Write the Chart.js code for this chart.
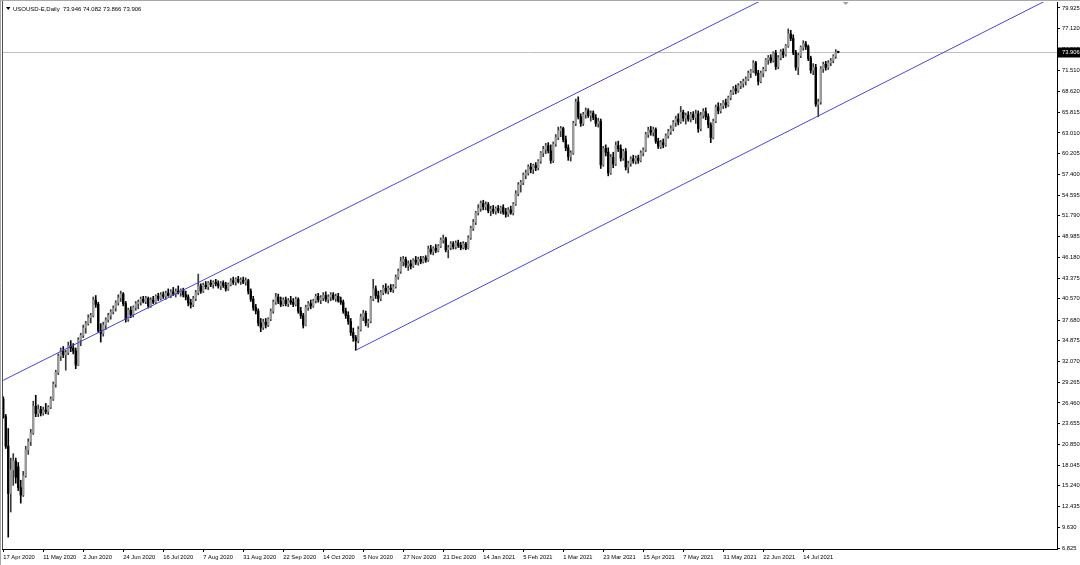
<!DOCTYPE html>
<html><head><meta charset="utf-8">
<script src="https://cdn.jsdelivr.net/npm/chart.js@4.4.0/dist/chart.umd.min.js"></script>
<style>html,body{margin:0;padding:0;background:#fff;overflow:hidden}</style>
</head><body><canvas id="c" width="1080" height="565"></canvas>
<script>
const symbolTitle = 'USOUSD-E,Daily';
const holidays = ['2020-12-25','2021-01-01','2021-04-02'];
const totalSlots = 422;

const opens = [
27.0,24.6,20.6,14.2,17.4,18.6,17.8,15.0,14.0,16.6,
20.1,21.2,22.4,26.0,25.0,25.6,25.1,25.5,25.3,25.9,
27.0,29.0,30.6,32.8,33.5,33.0,33.3,34.2,33.9,33.5,
31.6,35.0,35.6,36.6,37.2,38.0,38.3,40.4,39.8,36.3,
35.9,37.0,37.7,38.3,38.8,39.3,40.0,40.7,41.2,39.9,
37.8,39.0,38.4,39.4,39.9,40.1,40.5,40.2,40.6,39.6,
40.4,40.1,40.9,40.6,41.1,40.9,41.3,41.0,41.5,41.2,
41.6,41.4,41.7,41.1,40.8,40.0,39.8,40.6,41.4,42.3,
41.6,42.4,42.2,42.7,42.5,42.8,42.6,42.3,42.7,42.4,
41.9,42.5,43.0,42.8,43.2,42.9,43.1,42.8,43.0,41.6,
40.5,39.4,38.9,37.3,36.7,37.4,37.0,37.8,38.9,40.1,
40.8,40.2,39.8,40.4,39.9,40.3,40.1,39.8,40.5,38.9,
38.3,37.0,39.4,39.9,39.6,40.3,40.9,40.4,40.7,41.0,
40.5,40.8,41.1,40.6,40.9,40.3,40.1,38.9,38.3,37.5,
36.0,35.3,34.9,36.4,38.1,38.6,37.3,37.5,40.6,41.9,
41.0,40.6,41.4,42.0,41.6,42.0,41.8,42.2,43.5,44.3,
45.6,45.9,45.1,45.3,45.0,45.8,45.5,45.9,45.6,46.1,
45.8,47.3,46.9,47.4,47.1,47.7,48.5,48.7,47.2,47.5,
48.0,47.6,48.1,47.8,47.5,48.0,47.4,48.8,50.1,50.9,
52.2,52.8,53.5,53.0,53.3,52.5,52.7,52.4,52.8,52.5,
52.9,52.3,52.0,52.6,52.2,53.4,54.8,56.0,56.3,57.3,
57.6,58.4,58.1,58.6,58.3,59.2,60.3,60.8,61.3,60.6,
59.3,61.5,62.4,63.3,63.6,62.1,61.0,59.8,60.3,64.3,
67.2,65.2,64.3,65.5,66.0,65.4,65.7,65.1,64.3,64.6,
58.7,60.9,60.4,57.6,59.7,58.8,61.3,60.9,59.6,60.5,
58.4,58.9,59.5,59.2,59.6,59.3,60.3,60.7,62.8,63.4,
63.1,63.5,61.9,61.2,61.7,61.4,62.6,63.2,63.6,64.4,
64.9,64.5,65.8,65.0,65.4,64.9,65.5,65.1,65.6,63.6,
65.4,65.9,65.2,64.1,62.4,64.6,66.5,66.0,66.7,67.1,
66.8,67.8,68.5,69.0,68.7,69.4,69.7,70.0,70.3,71.1,
71.4,72.5,71.1,70.0,71.1,71.6,72.9,73.2,72.8,73.8,
72.0,73.2,74.0,73.6,74.8,76.4,75.8,73.9,71.9,73.5,
74.6,75.1,74.7,73.1,71.5,71.9,66.9,67.2,71.7,72.3,
71.9,72.5,72.8,73.4,73.946];

const highs = [
27.3,24.9,23.0,19.0,19.6,19.0,18.4,16.0,17.2,20.6,
21.6,22.9,26.7,27.5,26.2,26.0,25.9,26.4,26.1,27.3,
29.3,30.9,33.1,33.9,34.1,33.6,34.7,34.9,34.5,33.9,
35.3,35.9,37.0,37.5,38.4,38.6,40.8,41.0,40.1,37.2,
37.4,38.0,38.6,39.1,39.6,40.3,41.1,41.6,41.4,40.2,
39.3,39.5,39.6,40.2,40.4,40.8,40.9,40.9,40.8,40.7,
40.9,41.1,41.3,41.4,41.5,41.6,41.9,41.8,42.1,41.9,
42.3,41.9,42.0,41.6,41.1,40.5,40.9,41.7,43.9,42.6,
42.7,42.9,42.9,43.1,43.0,43.2,43.0,42.9,43.0,42.8,
42.7,43.3,43.5,43.4,43.6,43.4,43.5,43.4,43.2,41.9,
40.9,39.8,39.2,37.9,37.8,37.9,38.0,39.2,40.4,41.3,
41.2,40.8,40.7,40.8,40.6,40.9,40.6,40.8,40.7,39.4,
38.6,39.7,40.2,40.4,40.5,41.2,41.3,41.0,41.4,41.5,
41.1,41.4,41.4,41.2,41.3,40.8,40.4,39.3,38.8,37.9,
36.6,35.6,36.8,38.5,39.0,38.9,37.8,40.9,43.2,42.3,
41.6,41.7,42.4,42.6,42.3,42.5,42.5,43.8,44.6,46.2,
46.3,46.2,45.7,45.8,46.0,46.3,46.2,46.3,46.3,46.4,
47.7,47.8,47.6,47.9,47.9,48.8,49.2,48.9,47.8,48.3,
48.3,48.4,48.5,48.2,48.3,48.2,49.1,50.4,51.3,52.4,
53.3,53.8,53.9,53.7,53.6,53.1,53.2,53.0,53.2,53.1,
53.3,52.8,52.9,53.1,53.6,55.2,56.3,56.6,57.6,58.0,
58.7,58.9,58.8,59.0,59.4,60.5,61.2,61.6,61.7,61.4,
61.8,62.8,63.8,63.9,63.8,62.6,61.4,60.6,64.6,67.6,
67.9,65.6,65.8,66.4,66.3,66.0,66.0,65.5,65.0,64.9,
61.2,61.4,61.0,60.1,60.4,61.8,61.9,61.4,60.8,60.9,
59.2,59.8,60.0,59.9,60.0,60.6,61.0,63.1,63.8,63.9,
63.8,63.7,62.3,62.0,62.2,62.9,63.5,64.0,64.7,65.3,
65.6,66.6,66.1,65.7,65.9,65.8,65.9,66.1,66.0,65.8,
66.3,66.4,65.6,64.4,64.9,66.8,67.1,67.0,67.4,67.6,
68.0,68.8,69.3,69.5,69.7,70.0,70.3,70.6,71.4,71.6,
72.8,72.7,71.5,71.4,71.9,73.1,73.5,73.6,74.0,74.2,
73.5,74.3,74.4,75.0,77.1,76.9,76.3,74.2,73.8,74.8,
75.5,75.4,74.9,73.4,72.4,72.3,67.6,72.0,72.6,72.7,
72.8,73.1,73.6,74.3,74.082];

const lows = [
24.4,20.3,8.3,11.7,15.3,15.6,14.6,12.9,13.8,16.4,
19.5,20.7,22.2,24.6,24.6,24.7,24.8,25.0,24.9,25.7,
26.8,28.6,30.3,32.2,32.6,30.9,33.0,33.4,33.1,31.1,
31.5,34.2,35.3,35.9,37.0,37.3,38.1,39.4,36.0,34.7,
35.5,36.4,37.4,37.8,38.5,38.9,39.7,40.2,39.6,37.4,
37.5,38.0,38.1,39.0,39.2,39.7,40.0,39.9,39.3,39.4,
39.9,39.9,40.3,40.4,40.6,40.5,40.9,40.7,41.0,40.8,
41.2,40.9,40.8,40.4,39.6,39.3,39.5,40.3,41.1,41.3,
41.4,41.9,41.8,42.2,42.0,42.3,42.0,41.8,42.1,41.6,
41.7,42.3,42.5,42.4,42.7,42.5,42.6,42.4,41.2,40.2,
39.0,38.5,36.9,36.1,36.4,36.6,36.8,37.6,38.6,39.8,
39.9,39.5,39.6,39.6,39.5,39.8,39.5,39.6,38.6,37.9,
36.6,36.9,39.0,39.2,39.4,40.0,40.1,39.9,40.3,40.2,
40.0,40.3,40.4,40.2,40.1,39.8,38.6,37.9,37.1,35.6,
34.8,33.6,34.6,36.2,37.6,36.9,36.7,37.3,40.3,40.6,
40.1,40.3,41.1,41.3,41.2,41.5,41.4,42.0,43.2,44.0,
45.0,44.8,44.4,44.6,44.8,45.2,45.1,45.3,45.4,45.5,
45.6,46.6,46.5,46.8,46.9,47.5,48.1,46.9,46.1,47.2,
47.3,47.3,47.5,47.2,47.3,47.2,47.3,48.6,49.8,50.6,
51.9,52.4,52.6,52.6,52.2,51.8,52.1,52.0,52.2,52.1,
52.0,51.6,51.7,52.0,51.9,53.2,54.5,55.0,56.0,56.8,
57.3,57.6,57.5,57.9,58.0,58.9,59.8,60.2,60.3,58.9,
59.0,61.2,62.1,62.5,61.8,60.6,59.3,59.2,60.1,64.0,
64.9,63.9,64.0,65.0,65.1,64.6,64.8,63.9,63.8,58.2,
58.5,59.9,57.2,57.4,58.3,58.6,60.5,59.2,59.3,58.0,
57.6,58.5,58.9,58.8,58.9,59.1,59.9,60.5,62.4,62.7,
62.6,61.6,60.9,60.9,61.0,61.2,62.3,62.8,63.3,63.9,
64.1,64.3,64.6,64.2,64.6,64.5,64.8,64.3,63.1,63.3,
65.0,64.8,63.7,61.7,62.2,64.4,65.6,65.7,66.3,66.4,
66.6,67.5,68.2,68.3,68.5,69.0,69.2,69.5,70.1,70.5,
71.2,70.8,69.5,69.8,70.6,71.4,72.3,72.5,72.6,71.6,
71.7,72.9,73.2,73.4,74.6,75.5,73.6,71.5,70.9,73.2,
74.2,74.3,72.8,71.1,70.9,66.6,65.2,66.9,71.2,71.5,
71.6,72.1,72.5,73.1,73.866];

const closes = [
24.6,20.6,14.2,17.4,18.6,16.4,15.0,14.0,16.6,20.1,
21.2,22.4,26.0,25.0,25.6,25.1,25.5,25.3,25.9,27.0,
29.0,30.6,32.8,33.5,33.0,33.3,34.2,33.9,33.5,31.6,
35.0,35.6,36.6,37.2,38.0,38.3,40.4,39.8,36.3,35.9,
37.0,37.7,38.3,38.8,39.3,40.0,40.7,41.2,39.9,37.8,
39.0,38.4,39.4,39.9,40.1,40.5,40.2,40.6,39.6,40.4,
40.1,40.9,40.6,41.1,40.9,41.3,41.0,41.5,41.2,41.6,
41.4,41.7,41.1,40.8,40.0,39.8,40.6,41.4,42.3,41.6,
42.4,42.2,42.7,42.5,42.8,42.6,42.3,42.7,42.4,41.9,
42.5,43.0,42.8,43.2,42.9,43.1,42.8,43.0,41.6,40.5,
39.4,38.9,37.3,36.7,37.4,37.0,37.8,38.9,40.1,40.8,
40.2,39.8,40.4,39.9,40.3,40.1,39.8,40.5,38.9,38.3,
37.0,39.4,39.9,39.6,40.3,40.9,40.4,40.7,41.0,40.5,
40.8,41.1,40.6,40.9,40.3,40.1,38.9,38.3,37.5,36.0,
35.3,34.9,36.4,38.1,38.6,37.3,37.5,40.6,41.9,41.0,
40.6,41.4,42.0,41.6,42.0,41.8,42.2,43.5,44.3,45.6,
45.9,45.1,45.3,45.0,45.8,45.5,45.9,45.6,46.1,45.8,
47.3,46.9,47.4,47.1,47.7,48.5,48.7,47.2,47.5,48.0,
47.6,48.1,47.8,47.5,48.0,47.4,48.8,50.1,50.9,52.2,
52.8,53.5,53.0,53.3,52.5,52.7,52.4,52.8,52.5,52.9,
52.3,52.0,52.6,52.2,53.4,54.8,56.0,56.3,57.3,57.6,
58.4,58.1,58.6,58.3,59.2,60.3,60.8,61.3,60.6,59.3,
61.5,62.4,63.3,63.6,62.1,61.0,59.8,60.3,64.3,67.2,
65.2,64.3,65.5,66.0,65.4,65.7,65.1,64.3,64.6,58.7,
60.9,60.4,57.6,59.7,58.8,61.3,60.9,59.6,60.5,58.4,
58.9,59.5,59.2,59.6,59.3,60.3,60.7,62.8,63.4,63.1,
63.5,61.9,61.2,61.7,61.4,62.6,63.2,63.6,64.4,64.9,
64.5,65.8,65.0,65.4,64.9,65.5,65.1,65.6,63.6,65.4,
65.9,65.2,64.1,62.4,64.6,66.5,66.0,66.7,67.1,66.8,
67.8,68.5,69.0,68.7,69.4,69.7,70.0,70.3,71.1,71.4,
72.5,71.1,70.0,71.1,71.6,72.9,73.2,72.8,73.8,72.0,
73.2,74.0,73.6,74.8,76.4,75.8,73.9,71.9,73.5,74.6,
75.1,74.7,73.1,71.5,71.9,66.9,67.2,71.7,72.3,71.9,
72.5,72.8,73.4,73.9,73.906];

const yTickValues = [79.925,77.120,74.315,71.510,68.620,65.815,63.010,60.205,57.400,54.595,51.790,48.985,46.180,43.375,40.570,37.680,34.875,32.070,29.265,26.460,23.655,20.850,18.045,15.240,12.435,9.630,6.825];
const xTickLabels = ['17 Apr 2020','11 May 2020','2 Jun 2020','24 Jun 2020','16 Jul 2020','7 Aug 2020','31 Aug 2020','22 Sep 2020','14 Oct 2020','5 Nov 2020','27 Nov 2020','21 Dec 2020','14 Jan 2021','5 Feb 2021','1 Mar 2021','23 Mar 2021','15 Apr 2021','7 May 2021','31 May 2021','22 Jun 2021','14 Jul 2021'];

// trend line anchors: bar index and price
const upperLineIdx = [0, 310];
const upperLinePrice = [29.53, 82.1];
const lowerLineIdx = [141, 421];
const lowerLinePrice = [33.6, 81.6];

// categories: trading days
const MONTHS = ['Jan','Feb','Mar','Apr','May','Jun','Jul','Aug','Sep','Oct','Nov','Dec'];
const labels = [];
{
  const d = new Date(Date.UTC(2020,3,17));
  while (labels.length < totalSlots) {
    const dow = d.getUTCDay();
    const iso = d.toISOString().slice(0,10);
    if (dow !== 0 && dow !== 6 && !holidays.includes(iso)) {
      labels.push(d.getUTCDate() + ' ' + MONTHS[d.getUTCMonth()] + ' ' + d.getUTCFullYear());
    }
    d.setUTCDate(d.getUTCDate() + 1);
  }
}

const N = closes.length;
const wickData = lows.map((l,i)=>[l, highs[i]]);
const bodyData = opens.map((o,i)=>[o, closes[i]]);
const isUp = i => closes[i] >= opens[i];
const FONT = 'Liberation Sans, Arial, sans-serif';

const framePlugin = {
  id: 'frame',
  beforeDatasetsDraw(chart) {
    const {ctx, chartArea: a, scales} = chart;
    const y = Math.round(scales.y.getPixelForValue(closes[N-1])) + 0.5;
    ctx.save();
    ctx.strokeStyle = '#c0c0c0';
    ctx.lineWidth = 1;
    ctx.beginPath(); ctx.moveTo(a.left, y); ctx.lineTo(a.right, y); ctx.stroke();
    ctx.restore();
  },
  afterDraw(chart) {
    const {ctx, chartArea: a, scales} = chart;
    ctx.save();
    ctx.lineWidth = 1;
    ctx.strokeStyle = '#a8a8a8';
    ctx.beginPath(); ctx.moveTo(0.5, 0); ctx.lineTo(0.5, 565); ctx.stroke();
    ctx.beginPath(); ctx.moveTo(0, 0.5); ctx.lineTo(1080, 0.5); ctx.stroke();
    ctx.strokeStyle = '#505050';
    ctx.beginPath(); ctx.moveTo(2.5, 1); ctx.lineTo(2.5, a.bottom); ctx.stroke();
    const y = Math.round(scales.y.getPixelForValue(closes[N-1])) + 0.5;
    ctx.fillStyle = '#000';
    ctx.fillRect(a.right + 1, y - 5, 1080 - a.right - 1, 10);
    ctx.fillStyle = '#fff';
    ctx.font = '5.8px ' + FONT;
    ctx.textBaseline = 'middle';
    ctx.textAlign = 'left';
    ctx.fillText(closes[N-1].toFixed(3), a.right + 5, y);
    ctx.fillStyle = '#000';
    ctx.beginPath(); ctx.moveTo(6, 7); ctx.lineTo(10.5, 7); ctx.lineTo(8.25, 10); ctx.closePath(); ctx.fill();
    ctx.font = '6px ' + FONT;
    ctx.fillText(symbolTitle + '  ' + opens[N-1].toFixed(3) + ' ' + highs[N-1].toFixed(3) + ' ' + lows[N-1].toFixed(3) + ' ' + closes[N-1].toFixed(3), 13, 9);
    const sx = scales.x.getPixelForValue(N + 2);
    ctx.fillStyle = '#a0a0a0';
    ctx.beginPath(); ctx.moveTo(sx - 3, 2); ctx.lineTo(sx + 3, 2); ctx.lineTo(sx, 5); ctx.closePath(); ctx.fill();
    ctx.restore();
  }
};

new Chart(document.getElementById('c'), {
  type: 'bar',
  data: {
    labels: labels,
    datasets: [
      { label: 'upper', type: 'line', data: upperLineIdx.map((k,j)=>({x: labels[k], y: upperLinePrice[j]})),
        borderColor: 'rgb(70,70,222)', borderWidth: 1, pointRadius: 0, order: 0 },
      { label: 'lower', type: 'line', data: lowerLineIdx.map((k,j)=>({x: labels[k], y: lowerLinePrice[j]})),
        borderColor: 'rgb(70,70,222)', borderWidth: 1, pointRadius: 0, order: 0 },
      { label: 'body', data: bodyData, grouped: false, barThickness: 1.7, minBarLength: 1,
        backgroundColor: c => isUp(c.dataIndex) ? '#9a9a9a' : '#000000', order: 1 },
      { label: 'wick', data: wickData, grouped: false, barThickness: 1,
        backgroundColor: c => isUp(c.dataIndex) ? '#3a3a3a' : '#000000', order: 2 }
    ]
  },
  options: {
    responsive: false, animation: false, devicePixelRatio: 1,
    layout: { padding: { left: 2, top: 2, right: 0, bottom: 0 } },
    plugins: { legend: { display: false }, tooltip: { enabled: false } },
    scales: {
      x: {
        type: 'category', offset: true,
        grid: { drawOnChartArea: false, drawTicks: true, tickLength: 3, color: '#000', offset: false },
        border: { display: true, color: '#000' },
        ticks: { autoSkip: false, maxRotation: 0, minRotation: 0, align: 'start', padding: 2, color: '#000',
                 font: { family: FONT, size: 5.8 } },
        afterBuildTicks: s => { s.ticks = s.ticks.filter(t => xTickLabels.includes(labels[t.value])); },
        afterFit: s => { s.height = 16; s.paddingLeft = 0; s.paddingRight = 0; }
      },
      y: {
        position: 'right', min: 6.69, max: 80.737,
        grid: { drawOnChartArea: false, tickLength: 3, color: '#000' },
        border: { display: true, color: '#000' },
        ticks: { padding: 2, color: '#000', font: { family: FONT, size: 5.8 }, callback: v => Number(v).toFixed(3) },
        afterBuildTicks: s => { s.ticks = yTickValues.map(v => ({ value: v })); },
        afterFit: s => { s.width = 23; s.paddingTop = 0; s.paddingBottom = 0; }
      }
    }
  },
  plugins: [framePlugin]
});
</script>
</body></html>
